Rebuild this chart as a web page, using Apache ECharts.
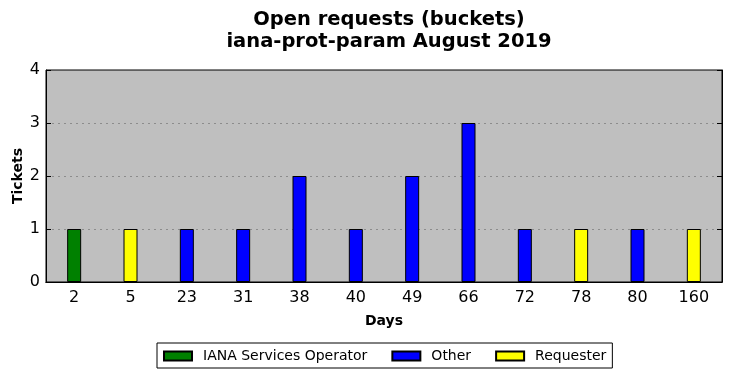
<!DOCTYPE html>
<html><head><meta charset="utf-8">
<script src="https://cdn.jsdelivr.net/npm/echarts@6/dist/echarts.min.js"></script>
<style>html,body{margin:0;padding:0;background:#fff}#c{width:732px;height:378px}</style>
</head><body><div id="c"></div>
<script>
const categories = ['2','5','23','31','38','40','49','66','72','78','80','160'];
const ianaValues = [1,'-','-','-','-','-','-','-','-','-','-','-'];
const otherValues = ['-','-',1,1,2,1,2,3,1,'-',1,'-'];
const requesterValues = ['-',1,'-','-','-','-','-','-','-',1,'-',1];
const yTicks = [0,1,2,3,4];

const font = 'DejaVu Sans';
const chart = echarts.init(document.getElementById('c'));
function bar(name, data, color) {
  return {
    name, type: 'bar', stack: 'all', data, barWidth: 14,
    itemStyle: { color, borderColor: '#000', borderWidth: 1 },
    xAxisIndex: 0, yAxisIndex: 0
  };
}
chart.setOption({
  animation: false,
  title: {
    text: 'Open requests (buckets)\niana-prot-param August 2019',
    left: 384, textAlign: 'center', top: 4,
    textStyle: { fontFamily: font, fontSize: 19.5, fontWeight: 'bold', color: '#000', lineHeight: 22 }
  },
  legend: {
    bottom: 10, left: 157,
    borderColor: '#000', borderWidth: 1, padding: [6, 6, 5, 6],
    icon: 'rect',
    itemWidth: 28, itemHeight: 9, itemGap: 24,
    textStyle: { fontFamily: font, fontSize: 14, color: '#000', padding: [0, 0, 0, 6] },
    data: ['IANA Services Operator', 'Other', 'Requester']
  },
  grid: { left: 46, right: 10, top: 70, bottom: 96, outerBoundsMode: 'none', show: true, backgroundColor: '#bfbfbf', borderColor: '#000', borderWidth: 1 },
  xAxis: [{
    type: 'category', data: categories, position: 'bottom', z: 5,
    name: 'Days', nameLocation: 'middle', nameGap: 32, nameMoveOverlap: false,
    nameTextStyle: { fontFamily: font, fontSize: 14, fontWeight: 'bold', color: '#000' },
    axisLine: { lineStyle: { color: '#000' } },
    axisTick: { inside: true, alignWithLabel: true, length: 5, lineStyle: { color: '#000' } },
    axisLabel: { fontFamily: font, fontSize: 16, color: '#000', margin: 8 }
  }, {
    type: 'category', data: categories, position: 'top', z: 5,
    axisLine: { lineStyle: { color: '#000' } },
    axisTick: { inside: true, alignWithLabel: true, length: 5, lineStyle: { color: '#000' } },
    axisLabel: { show: false }
  }],
  yAxis: [{
    type: 'value', min: 0, max: 4, interval: 1, position: 'left',
    name: 'Tickets', nameLocation: 'middle', nameGap: 21, nameMoveOverlap: false,
    nameTextStyle: { fontFamily: font, fontSize: 14, fontWeight: 'bold', color: '#000' },
    axisLine: { show: true, lineStyle: { color: '#000' } },
    axisTick: { show: true, inside: true, length: 5, lineStyle: { color: '#000' } },
    axisLabel: { fontFamily: font, fontSize: 16, color: '#000', margin: 6, formatter: v => yTicks.includes(v) ? String(v) : '' },
    splitLine: { show: true, showMinLine: false, showMaxLine: false, lineStyle: { color: '#8c8c8c', type: [2, 4], width: 1 } }
  }, {
    type: 'value', min: 0, max: 4, interval: 1, position: 'right', z: 5,
    axisLine: { show: true, lineStyle: { color: '#000' } },
    axisTick: { show: true, inside: true, length: 5, lineStyle: { color: '#000' } },
    axisLabel: { show: false }, splitLine: { show: false }
  }],
  series: [
    bar('IANA Services Operator', ianaValues, '#008000'),
    bar('Other', otherValues, '#0000ff'),
    bar('Requester', requesterValues, '#ffff00')
  ]
});
</script></body></html>
